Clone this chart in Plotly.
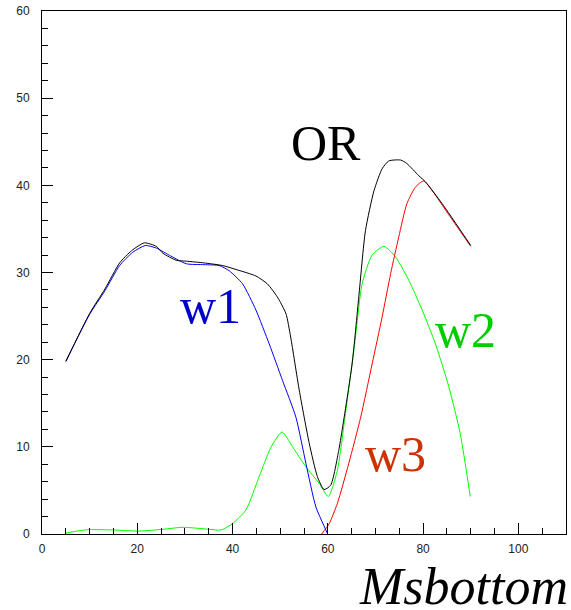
import plotly.graph_objects as go

# Efficiency-style curves vs Msbottom
or_x = [5, 10, 13.2, 16.3, 18.8, 21.5, 24, 25.4, 28.2, 30.3, 34, 37.9, 41, 44.9, 47.3, 49.4,
        51.2, 52.2, 54, 56.1, 57.8, 59.2, 60.6, 62.3, 63, 65.1, 66.5, 67.9, 69.7, 71.4, 72.8,
        75.3, 76.6, 79.1, 80.5, 84, 90]
or_y = [19.8, 25.3, 28.1, 31.1, 32.5, 33.4, 33.0, 32.2, 31.4, 31.3, 31.1, 30.8, 30.3, 29.6, 28.7, 27.2,
        25.3, 22.6, 16.5, 10.4, 6.6, 5.1, 5.6, 9.6, 11.9, 19.5, 27.2, 34.8, 39.4, 41.9, 42.8,
        42.9, 42.5, 41.1, 40.4, 37.9, 33.1]

w1_x = [5, 10, 13.2, 16.3, 19, 21.7, 24, 27, 30.3, 34, 37.2, 39.3, 42.1, 44.9, 47.7, 50.5,
        53.3, 55.4, 57.5, 59.9]
w1_y = [19.8, 25.2, 27.9, 30.8, 32.3, 33.1, 32.8, 31.9, 31.0, 30.9, 30.8, 30.2, 28.7, 25.7, 21.8, 17.6,
        13.4, 8.1, 3.1, 0.1]

w2_x = [5, 8, 10, 15, 20.5, 25.4, 29.6, 35.1, 37.6, 40, 42.8, 45.6, 48.1, 50.4, 52.6, 55.4,
        58.2, 60.1, 62, 63.7, 65.8, 67.2, 69.3, 71.8, 74.2, 77, 79.8, 82.6, 85.4, 87.8, 89.9]
w2_y = [0.1, 0.4, 0.5, 0.46, 0.34, 0.54, 0.77, 0.54, 0.46, 1.2, 2.75, 6.6, 10.0, 11.7, 10.0, 7.7,
        5.8, 4.3, 7.3, 13.8, 22.6, 28.7, 32.0, 33.0, 31.8, 29.1, 25.7, 21.8, 16.9, 11.5, 4.3]

w3_x = [58.7, 60.3, 62, 64.4, 66.9, 69.3, 71.4, 73.2, 74.9, 76.6, 78.4, 80.1, 81.9, 84.3, 90]
w3_y = [0.0, 1.2, 3.5, 8.1, 13.4, 19.5, 24.9, 29.9, 34.1, 37.9, 39.8, 40.5, 39.4, 37.5, 33.0]

x_ticks = [0, 20, 40, 60, 80, 100]
y_ticks = [0, 10, 20, 30, 40, 50, 60]

fig = go.Figure()
for xs, ys, col in [(w2_x, w2_y, "#00ff00"), (w3_x, w3_y, "#ff0000"),
                    (w1_x, w1_y, "#0000ff"), (or_x, or_y, "#000000")]:
    fig.add_trace(go.Scatter(x=xs, y=ys, mode="lines",
                             line=dict(color=col, width=1, shape="spline", smoothing=0.6),
                             showlegend=False))

serif = "Liberation Serif, Times New Roman, serif"
labels = [("OR", 59.6, 44.8, "#000000"), ("w1", 35.4, 26.2, "#0000cc"),
          ("w2", 88.8, 23.4, "#00cc00"), ("w3", 74.2, 9.2, "#cc3300")]
for txt, lx, ly, col in labels:
    fig.add_annotation(x=lx, y=ly, xref="x", yref="y", text=txt, showarrow=False,
                       xanchor="center", yanchor="middle",
                       font=dict(family=serif, size=50, color=col))

fig.add_annotation(x=1, y=-0.043, xref="paper", yref="paper", text="<i>Msbottom</i>",
                   showarrow=False, xanchor="right", yanchor="top", xshift=4,
                   font=dict(family=serif, size=52, color="#000000"))

tickfont = dict(family="Liberation Sans, Arial, sans-serif", size=12, color="#222222")
fig.update_xaxes(range=[0, 110], tickvals=x_ticks, ticks="inside", ticklen=11,
                 tickcolor="#000000", showgrid=False, zeroline=False,
                 showline=True, linecolor="#000000", linewidth=1, mirror=True,
                 tickfont=tickfont, ticklabelstandoff=4,
                 minor=dict(dtick=5, ticks="inside", ticklen=6, tickcolor="#000000", showgrid=False))
fig.update_yaxes(range=[0, 60], tickvals=y_ticks, ticks="inside", ticklen=11,
                 tickcolor="#000000", showgrid=False, zeroline=False,
                 showline=True, linecolor="#000000", linewidth=1, mirror=True,
                 tickfont=tickfont, ticklabelstandoff=9,
                 minor=dict(dtick=2, ticks="inside", ticklen=6, tickcolor="#000000", showgrid=False))

fig.update_layout(width=571, height=610, margin=dict(l=42, r=5, t=11, b=76),
                  plot_bgcolor="#ffffff", paper_bgcolor="#ffffff")

fig.write_html("out.html")
